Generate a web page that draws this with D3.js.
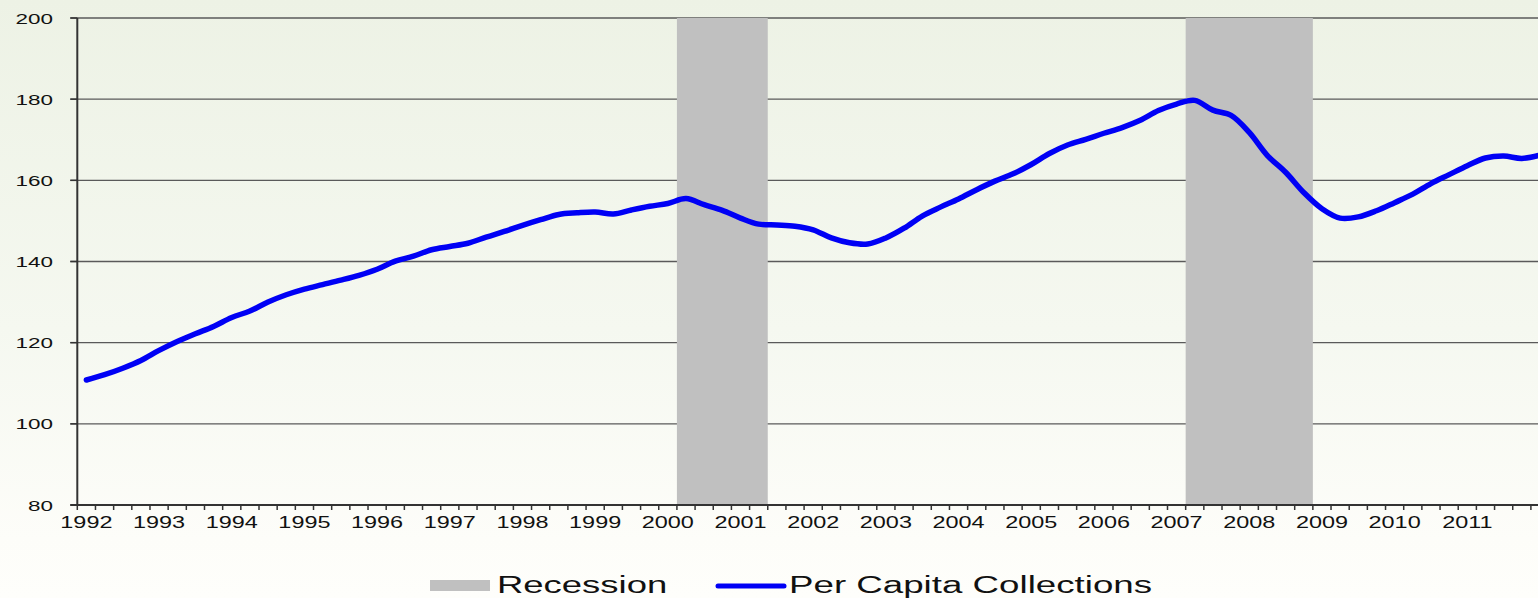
<!DOCTYPE html>
<html>
<head>
<meta charset="utf-8">
<script src="https://cdn.jsdelivr.net/npm/d3@7"></script>
<style>
  html, body { margin: 0; padding: 0; overflow: hidden; }
  body { width: 1538px; height: 598px; }
  svg { display: block; }
  text { font-family: 'Liberation Sans', Arial, sans-serif; fill: #111; }
</style>
</head>
<body>
<svg id="chart" width="1538" height="598"></svg>
<script>
// quarters 1992 Q1 .. 2012 Q1
const years = d3.range(1992, 2013);
const quarters = [];
years.forEach(yr => [1, 2, 3, 4].forEach(q => { if (yr < 2012 || q === 1) quarters.push(yr + ' Q' + q); }));

const collections = [
  110.8, 112.1, 113.7, 115.6, 118.1, 120.3, 122.2, 124.0, 126.2, 127.8, 130.0, 131.8,
  133.2, 134.3, 135.4, 136.6, 138.1, 140.1, 141.3, 142.9, 143.7, 144.5, 146.0, 147.4,
  148.9, 150.3, 151.6, 152.0, 152.2, 151.7, 152.7, 153.6, 154.3, 155.5, 154.0, 152.6,
  150.7, 149.2, 149.0, 148.7, 147.8, 145.8, 144.6, 144.3, 145.8, 148.2, 151.2, 153.4,
  155.4, 157.7, 159.8, 161.6, 163.9, 166.6, 168.7, 170.1, 171.6, 173.0, 174.8, 177.2,
  178.8, 179.7, 177.3, 176.0, 171.8, 166.1, 162.0, 157.0, 153.0, 150.7, 151.0, 152.5,
  154.5, 156.6, 159.2, 161.4, 163.6, 165.5, 166.0, 165.4, 166.2
];

const recessions = [
  { from: '2000 Q2', to: '2001 Q2' },
  { from: '2007 Q2', to: '2008 Q4' }
];

const yTicks = [80, 100, 120, 140, 160, 180, 200];
const yearLabels = d3.range(1992, 2012).map(String);

(function() {
  const svg = d3.select('#chart');
  const W = 1538, H = 598;
  const left = 77.3, plotTop = 18, plotBottom = 505;
  const qw = 18.17;
  const sx = 1.45; // reference text is stretched horizontally

  // background
  const defs = svg.append('defs');
  const bg = defs.append('linearGradient').attr('id', 'bg').attr('x1', 0).attr('y1', 0).attr('x2', 0).attr('y2', 1);
  bg.append('stop').attr('offset', '0%').attr('stop-color', '#edf2e5');
  bg.append('stop').attr('offset', '55%').attr('stop-color', '#f5f8f0');
  bg.append('stop').attr('offset', '90%').attr('stop-color', '#fdfdf9');
  bg.append('stop').attr('offset', '100%').attr('stop-color', '#fefefb');
  svg.append('rect').attr('width', W).attr('height', H).attr('fill', 'url(#bg)');

  const x = d3.scaleBand().domain(quarters).range([left, left + quarters.length * qw]).padding(0);
  const y = d3.scaleLinear().domain([80, 200]).range([plotBottom, plotTop]);
  const bw = x.bandwidth();

  // gridlines
  svg.append('g').selectAll('line').data(yTicks.filter(d => d > 80)).join('line')
    .attr('x1', left - 7).attr('x2', W)
    .attr('y1', d => y(d)).attr('y2', d => y(d))
    .attr('stroke', '#5a5a5a').attr('stroke-width', 1.4);

  // recession shading
  svg.append('g').selectAll('rect').data(recessions).join('rect')
    .attr('x', d => x(d.from))
    .attr('width', d => x(d.to) + bw - x(d.from))
    .attr('y', y(200)).attr('height', y(80) - y(200))
    .attr('fill', '#c0c0c0');

  // axes
  const axis = svg.append('g').attr('stroke', '#333');
  axis.append('line').attr('x1', left).attr('x2', left).attr('y1', y(200)).attr('y2', y(80)).attr('stroke-width', 2);
  axis.append('line').attr('x1', left - 7).attr('x2', W).attr('y1', y(80)).attr('y2', y(80)).attr('stroke-width', 2);
  axis.selectAll('.yt').data(yTicks).join('line').attr('class', 'yt')
    .attr('x1', left - 7).attr('x2', left).attr('y1', d => y(d)).attr('y2', d => y(d)).attr('stroke-width', 1.5);
  axis.selectAll('.xt').data(quarters).join('line').attr('class', 'xt')
    .attr('x1', d => x(d)).attr('x2', d => x(d))
    .attr('y1', y(80)).attr('y2', y(80) + 5).attr('stroke-width', 1.5);

  // y labels
  svg.append('g').selectAll('text').data(yTicks).join('text')
    .attr('transform', d => `translate(53,${y(d)}) scale(${sx},1)`)
    .attr('text-anchor', 'end').attr('dy', '0.36em')
    .style('font-size', '15.5px')
    .text(d => d);

  // x labels
  svg.append('g').selectAll('text').data(yearLabels).join('text')
    .attr('transform', d => `translate(${x(d + ' Q1') + bw / 2},528) scale(${sx - 0.03},1)`)
    .attr('text-anchor', 'middle')
    .style('font-size', '16.5px')
    .text(d => d);

  // line
  const line = d3.line()
    .x((d, i) => x(quarters[i]) + bw / 2)
    .y(d => y(d))
    .curve(d3.curveCatmullRom.alpha(0.5));
  svg.append('path').datum(collections)
    .attr('d', line)
    .attr('fill', 'none').attr('stroke', '#0000f5')
    .attr('stroke-width', 5.5).attr('stroke-linecap', 'round').attr('stroke-linejoin', 'round');

  // legend
  const lg = svg.append('g');
  lg.append('rect').attr('x', 430).attr('y', 580).attr('width', 60).attr('height', 11).attr('fill', '#c0c0c0');
  lg.append('text').attr('transform', `translate(497,593) scale(1.52,1)`).style('font-size', '24px').text('Recession');
  lg.append('line').attr('x1', 718).attr('x2', 784).attr('y1', 586).attr('y2', 586)
    .attr('stroke', '#0000f5').attr('stroke-width', 5).attr('stroke-linecap', 'round');
  lg.append('text').attr('transform', `translate(789,593) scale(1.53,1)`).style('font-size', '24px').text('Per Capita Collections');
})();
</script>
</body>
</html>
